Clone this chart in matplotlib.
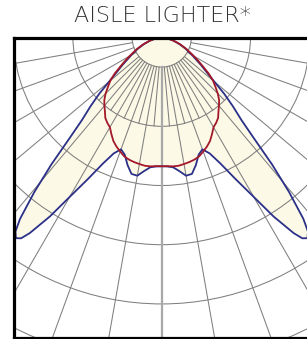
import numpy as np
import matplotlib
matplotlib.use("Agg")
import matplotlib.pyplot as plt
from matplotlib.patches import Circle

# ---- data (candela, angle in degrees from nadir; symmetric distributions) ----
title = "AISLE LIGHTER*"

ring_values = [100, 300, 500, 700, 900, 1100]
major_angles = list(range(-80, 81, 10))
minor_angles = [a for a in range(-45, 46, 5) if a % 10 != 0]

# red curve (narrow distribution), half profile
red_angles = [0, 2.5, 5, 7.5, 10, 12.5, 15, 17.5, 20, 22.5, 25, 27.5, 30, 32.5, 35, 37.5,
              40, 42.5, 45, 47.5, 50, 52.5, 55, 57.5, 60, 65, 70, 75, 80, 85, 90]
red_cd     = [435, 435, 437, 437, 434, 431, 427, 421, 410, 399, 386, 368, 350, 342, 332, 315,
              301, 287, 268, 246, 226, 200, 170, 146, 125, 93, 66, 42, 22, 7, 0]

# blue curve (batwing distribution), half profile
blue_angles = [0, 2.5, 5, 7.5, 10, 12.5, 15, 17.5, 20, 22.5, 25, 27.5, 30, 32, 34, 35, 36,
               37, 38, 39.5, 41, 42.5, 44, 46, 48, 50, 52.5, 55, 60, 65, 70, 75, 80, 85, 90]
blue_cd     = [435, 436, 440, 455, 474, 472, 446, 415, 402, 424, 470, 538, 622, 713, 797, 828, 838,
               821, 777, 676, 568, 459, 388, 334, 284, 232, 190, 162, 118, 88, 62, 40, 22, 8, 0]


def full_profile(angles, values):
    a = np.array(angles, dtype=float)
    v = np.array(values, dtype=float)
    a_full = np.concatenate([-a[::-1], a[1:]])
    v_full = np.concatenate([v[::-1], v[1:]])
    return a_full, v_full


def to_xy(theta_deg, r):
    t = np.radians(theta_deg)
    return r * np.sin(t), -r * np.cos(t)


W, H = 307, 339
fig = plt.figure(figsize=(W / 100, H / 100), dpi=100)
ax = fig.add_axes([13.5 / W, 1.5 / H, (311 - 13.5) / W, 300 / H])
ax.set_xlim(-500.6, 504.3)
ax.set_ylim(-1013.4, 0)
ax.set_xticks([])
ax.set_yticks([])
for s in ax.spines.values():
    s.set_linewidth(2.3)
    s.set_color("black")
    s.set_zorder(10)

fill_col = "#fcf9e6"
grid_col = "#7f7f7f"

ra, rv = full_profile(red_angles, red_cd)
ba, bv = full_profile(blue_angles, blue_cd)
rx, ry = to_xy(ra, rv)
bx, by = to_xy(ba, bv)

ax.fill(bx, by, color=fill_col, lw=0, zorder=1)
ax.fill(rx, ry, color=fill_col, lw=0, zorder=1)

# grid circles
for rv_ in ring_values:
    ax.add_patch(Circle((0, 0), rv_, fill=False, ec=grid_col, lw=0.75, zorder=2))

# radial lines
r_out = 1400
for a in major_angles:
    if a == 0:
        continue
    x0, y0 = to_xy(a, ring_values[0])
    x1, y1 = to_xy(a, r_out)
    ax.plot([x0, x1], [y0, y1], color=grid_col, lw=0.75, zorder=2)
for a in minor_angles:
    x0, y0 = to_xy(a, ring_values[0])
    x1, y1 = to_xy(a, ring_values[1])
    ax.plot([x0, x1], [y0, y1], color=grid_col, lw=0.75, zorder=2)
x0, y0 = to_xy(0, ring_values[0])
x1, y1 = to_xy(0, r_out)
ax.plot([x0, x1], [y0, y1], color="#a8a8a8", lw=1.6, zorder=2)

ax.plot(bx, by, color="#2b3088", lw=1.3, zorder=3)
ax.plot(rx, ry, color="#a3192a", lw=1.3, zorder=4)

fig.text(162 / W, 1 - 15.5 / H, title, ha="center", va="center",
         fontsize=16, family="DejaVu Sans", fontweight="light", color="#333333")

fig.savefig("out.png", dpi=100)
